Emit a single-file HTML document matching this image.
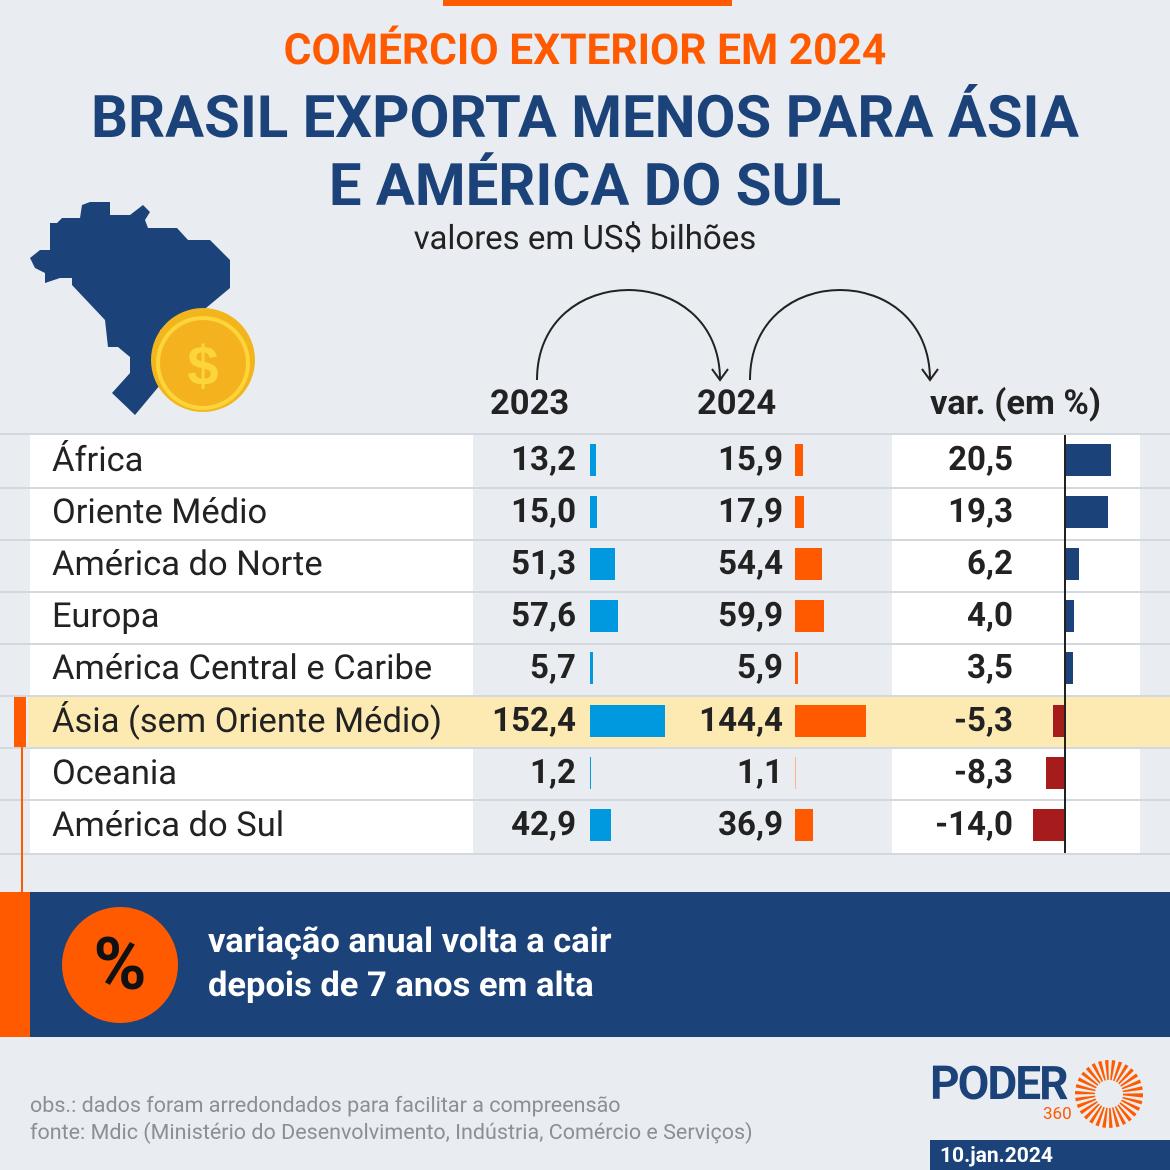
<!DOCTYPE html>
<html><head><meta charset="utf-8"><style>
body{margin:0;width:1170px;height:1170px;background:#e9edf1;position:relative;overflow:hidden;font-family:"Roboto","Liberation Sans",sans-serif;}
div,span{position:absolute;}
.t{left:0;width:1170px;text-align:center;font-weight:bold;}
.lab{left:52px;font-size:34.5px;color:#222;line-height:52px;white-space:nowrap;}
.v{font-size:33px;font-weight:bold;color:#222;line-height:52px;text-align:right;width:150px;}
.b{height:32px;}
</style></head><body>
<div style="left:443px;top:0;width:289px;height:6px;background:#ff5a00"></div>
<div class="t" style="top:27px;font-size:42.5px;color:#ff5a00;line-height:48px">COMÉRCIO EXTERIOR EM 2024</div>
<div class="t" style="top:84px;font-size:58px;color:#1b4279;line-height:68px">BRASIL EXPORTA MENOS PARA ÁSIA<br>E AMÉRICA DO SUL</div>
<div class="t" style="top:220px;font-size:33px;color:#222;font-weight:normal;line-height:38px">valores em US$ bilhões</div>

<svg style="position:absolute;left:0;top:0" width="1170" height="1170">
<polygon fill="#1b4279" points="90,202 110,202 110,215 130,215 143,205 150,212 145,220 148,228 177,228 188,240 210,240 230,260 230,288 200,313 160,330 160,385 135,415 112,393 130,373 130,357 118,347 108,347 105,320 72,285 72,278 60,278 45,283 45,273 35,268 30,258 40,250 50,250 50,223 57,223 62,218 80,218 82,205"/>
<circle cx="203" cy="360" r="52" fill="#f2b51e"/>
<circle cx="203" cy="363" r="45" fill="#f4b31e" stroke="#fcd53a" stroke-width="4"/>
<text x="203" y="385" font-size="56" font-weight="bold" fill="#fcd53a" text-anchor="middle" font-family="Liberation Sans">$</text>
<path d="M537,380 C537,260 720,260 720,380" fill="none" stroke="#222" stroke-width="2"/>
<path d="M712,369 L720,380 L728,369" fill="none" stroke="#222" stroke-width="2"/>
<path d="M750,380 C750,260 930,260 930,380" fill="none" stroke="#222" stroke-width="2"/>
<path d="M922,369 L930,380 L938,369" fill="none" stroke="#222" stroke-width="2"/>
</svg>

<div style="left:490px;top:383px;font-size:34.5px;font-weight:bold;color:#222">2023</div>
<div style="left:697px;top:383px;font-size:34.5px;font-weight:bold;color:#222">2024</div>
<div style="left:930px;top:383px;font-size:34.5px;font-weight:bold;color:#222">var. (em %)</div>

<div style="left:0;top:433px;width:1170px;height:422px;background:#d2d8dd"></div>
<div style="left:0;top:435px;width:30px;height:418px;background:#e9edf1"></div>
<div style="left:30px;top:435px;width:443px;height:418px;background:#fff"></div>
<div style="left:473px;top:435px;width:419px;height:418px;background:#e9edf1"></div>
<div style="left:892px;top:435px;width:248px;height:418px;background:#fff"></div>
<div style="left:1140px;top:435px;width:30px;height:418px;background:#e9edf1"></div>
<div style="left:0;top:487px;width:1170px;height:2px;background:#d2d8dd"></div>
<div style="left:0;top:539px;width:1170px;height:2px;background:#d2d8dd"></div>
<div style="left:0;top:591px;width:1170px;height:2px;background:#d2d8dd"></div>
<div style="left:0;top:643px;width:1170px;height:2px;background:#d2d8dd"></div>
<div style="left:0;top:695px;width:1170px;height:2px;background:#d2d8dd"></div>
<div style="left:0;top:747px;width:1170px;height:2px;background:#d2d8dd"></div>
<div style="left:0;top:799px;width:1170px;height:2px;background:#d2d8dd"></div>
<div style="left:28px;top:697px;width:1142px;height:50px;background:#fdeab3"></div>
<div style="left:14px;top:697px;width:12px;height:50px;background:#ff5a00"></div>
<div style="left:21px;top:747px;width:2px;height:145px;background:#ff5a00"></div>

<div class="lab" style="top:434px">África</div>
<div class="lab" style="top:486px">Oriente Médio</div>
<div class="lab" style="top:538px">América do Norte</div>
<div class="lab" style="top:590px">Europa</div>
<div class="lab" style="top:642px">América Central e Caribe</div>
<div class="lab" style="top:695px">Ásia (sem Oriente Médio)</div>
<div class="lab" style="top:747px">Oceania</div>
<div class="lab" style="top:799px">América do Sul</div>

<div class="v" style="left:426px;top:434px">13,2</div><div class="v" style="left:633px;top:434px">15,9</div><div class="v" style="left:863px;top:434px">20,5</div>
<div class="v" style="left:426px;top:486px">15,0</div><div class="v" style="left:633px;top:486px">17,9</div><div class="v" style="left:863px;top:486px">19,3</div>
<div class="v" style="left:426px;top:538px">51,3</div><div class="v" style="left:633px;top:538px">54,4</div><div class="v" style="left:863px;top:538px">6,2</div>
<div class="v" style="left:426px;top:590px">57,6</div><div class="v" style="left:633px;top:590px">59,9</div><div class="v" style="left:863px;top:590px">4,0</div>
<div class="v" style="left:426px;top:642px">5,7</div><div class="v" style="left:633px;top:642px">5,9</div><div class="v" style="left:863px;top:642px">3,5</div>
<div class="v" style="left:426px;top:695px">152,4</div><div class="v" style="left:633px;top:695px">144,4</div><div class="v" style="left:863px;top:695px">-5,3</div>
<div class="v" style="left:426px;top:747px">1,2</div><div class="v" style="left:633px;top:747px">1,1</div><div class="v" style="left:863px;top:747px">-8,3</div>
<div class="v" style="left:426px;top:799px">42,9</div><div class="v" style="left:633px;top:799px">36,9</div><div class="v" style="left:863px;top:799px">-14,0</div>

<div class="b" style="left:590px;top:444px;width:6px;background:#0099e0"></div>
<div class="b" style="left:590px;top:496px;width:7px;background:#0099e0"></div>
<div class="b" style="left:590px;top:548px;width:25px;background:#0099e0"></div>
<div class="b" style="left:590px;top:600px;width:28px;background:#0099e0"></div>
<div class="b" style="left:590px;top:652px;width:3px;background:#0099e0"></div>
<div class="b" style="left:590px;top:705px;width:75px;background:#0099e0"></div>
<div class="b" style="left:590px;top:757px;width:1px;background:#0099e0"></div>
<div class="b" style="left:590px;top:809px;width:21px;background:#0099e0"></div>
<div class="b" style="left:795px;top:444px;width:8px;background:#ff5a00"></div>
<div class="b" style="left:795px;top:496px;width:9px;background:#ff5a00"></div>
<div class="b" style="left:795px;top:548px;width:27px;background:#ff5a00"></div>
<div class="b" style="left:795px;top:600px;width:29px;background:#ff5a00"></div>
<div class="b" style="left:795px;top:652px;width:3px;background:#ff5a00"></div>
<div class="b" style="left:795px;top:705px;width:71px;background:#ff5a00"></div>
<div class="b" style="left:795px;top:757px;width:1px;background:#ffb38a"></div>
<div class="b" style="left:795px;top:809px;width:18px;background:#ff5a00"></div>
<div class="b" style="left:1065px;top:444px;width:46px;background:#1b4279"></div>
<div class="b" style="left:1065px;top:496px;width:43px;background:#1b4279"></div>
<div class="b" style="left:1065px;top:548px;width:14px;background:#1b4279"></div>
<div class="b" style="left:1065px;top:600px;width:9px;background:#1b4279"></div>
<div class="b" style="left:1065px;top:652px;width:8px;background:#1b4279"></div>
<div class="b" style="left:1053px;top:705px;width:12px;background:#a61c1c"></div>
<div class="b" style="left:1046px;top:757px;width:19px;background:#a61c1c"></div>
<div class="b" style="left:1033px;top:809px;width:32px;background:#a61c1c"></div>
<div style="left:1064px;top:435px;width:2px;height:418px;background:#222"></div>

<div style="left:0;top:892px;width:30px;height:145px;background:#ff5a00"></div>
<div style="left:30px;top:892px;width:1140px;height:145px;background:#1b4279"></div>
<div style="left:62px;top:907px;width:116px;height:116px;border-radius:50%;background:#ff5a00"></div>
<div style="left:62px;top:925px;width:116px;text-align:center;font-size:72px;font-weight:bold;color:#111;line-height:80px">%</div>
<div style="left:208px;top:919px;font-size:34.5px;font-weight:bold;color:#fff;line-height:44px">variação anual volta a cair<br>depois de 7 anos em alta</div>

<div style="left:30px;top:1092px;font-size:21.5px;color:#8a8f95;line-height:27px">obs.: dados foram arredondados para facilitar a compreensão<br>fonte: Mdic (Ministério do Desenvolvimento, Indústria, Comércio e Serviços)</div>

<div style="left:930px;top:1058px;font-size:46px;font-weight:bold;color:#1b4279;letter-spacing:-2px;line-height:52px">PODER</div>
<div style="left:1043px;top:1104px;font-size:17px;color:#ff5a00">360</div>
<svg style="position:absolute;left:1070px;top:1058px" width="76" height="72">
<circle cx="39" cy="36" r="24" fill="none" stroke="#ff5a00" stroke-width="20" stroke-dasharray="2.5 2.5"/>
</svg>
<div style="left:930px;top:1140px;width:240px;height:30px;background:#1b4279"></div>
<div style="left:940px;top:1142px;font-size:21px;font-weight:bold;color:#fff;line-height:28px">10.jan.2024</div>
</body></html>
